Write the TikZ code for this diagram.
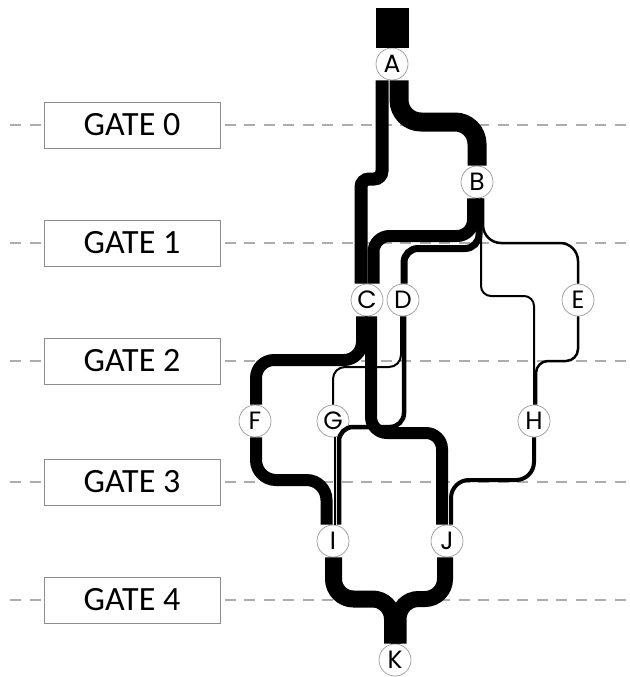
\documentclass[tikz,border=0pt]{standalone}
\usepackage{fontspec}
\usepackage{tikz}
\newfontfamily\gatefont{Carlito}
\newfontfamily\junctionfont{Poppins}

\begin{document}
\begin{tikzpicture}[x=1pt,y=-1pt,
	gate/.style={draw=black!45,fill=white,line width=0.8pt,minimum width=176pt,minimum height=46pt,
		font=\gatefont\fontsize{34}{34}\selectfont},
	junction/.style={circle,draw=black!40,fill=white,line width=0.7pt,minimum size=32pt,inner sep=0pt,
		font=\junctionfont\fontsize{25}{25}\selectfont},
	level/.style={draw=black!32,line width=2.6pt,dash pattern=on 11pt off 8.5pt},
	flow/.style={draw=black,line width=#1,line cap=butt}]
	\useasboundingbox (0,0) rectangle (629,677);

	% gate levels
	\foreach \y/\n in {125/0,243/1,361/2,482/3,600/4} {
		\draw[level] (10,\y) -- (629,\y);
		\node[gate] (gate\n) at (132,\y) {GATE \n};
	}

	\node[junction] (A) at (392,64) {A};
	\node[junction] (B) at (477,182) {B};
	\node[junction] (C) at (367,300) {C};
	\node[junction] (D) at (403,300) {D};
	\node[junction] (E) at (578,300) {E};
	\node[junction] (F) at (255,421) {F};
	\node[junction] (G) at (333,421) {G};
	\node[junction] (H) at (534,421) {H};
	\node[junction] (I) at (333,541) {I};
	\node[junction] (J) at (447,541) {J};
	\node[junction] (K) at (395,660) {K};
	\coordinate (src) at (392,8);

	\draw[flow=33pt] (src) -- (A.north);

	% A splits
	\draw[flow=19pt,rounded corners=22pt] ([xshift=7pt]A.south) |- (477,122) -- (B.north);
	\draw[flow=13pt,rounded corners=8pt] ([xshift=-10pt]A.south) |- (361,179) -- ([xshift=-6pt]C.north);

	% B splits
	\draw[flow=12pt,rounded corners=16pt] ([xshift=-4pt]B.south) |- (373.5,236) -- ([xshift=6.5pt]C.north);
	\draw[flow=7pt,rounded corners=14pt] ([xshift=2pt]B.south) |- (404,248.5) -- ([xshift=1pt]D.north);
	\draw[flow=2pt,rounded corners=10pt] ([xshift=4pt]B.south) |- (534,296) -- (H.north);
	\draw[flow=2.5pt,rounded corners=18pt] ([xshift=6pt]B.south) |- (578,243) -- (E.north);

	% C, D, E out
	\draw[flow=12pt,rounded corners=18pt] ([xshift=-5pt]C.south) |- (256,360) -- ([xshift=1pt]F.north);
	\draw[flow=12pt,rounded corners=16pt] ([xshift=4pt]C.south) |- (442,433) -- ([xshift=-5pt]J.north);
	\draw[flow=2pt,rounded corners=12pt] ([xshift=-2pt]D.south) |- (333,367) -- (G.north);
	\draw[flow=4.5pt,rounded corners=14pt] ([xshift=1pt]D.south) |- (339,427) -- ([xshift=6pt]I.north);
	\draw[flow=2.5pt,rounded corners=12pt] (E.south) |- (536,361) -- ([xshift=2pt]H.north);

	% F, G, H out
	\draw[flow=12pt,rounded corners=20pt] ([xshift=1pt]F.south) |- (326.5,480) -- ([xshift=-6.5pt]I.north);
	\draw[flow=2pt] ([xshift=1.5pt]G.south) -- ([xshift=1.5pt]I.north);
	\draw[flow=4pt,rounded corners=18pt] (H.south) |- (451,480) -- ([xshift=4pt]J.north);

	% I, J join at K
	\draw[flow=17pt,rounded corners=20pt] ([xshift=0.5pt]I.south) |- (392.5,599) -- ([xshift=-2.5pt]K.north);
	\draw[flow=16pt,rounded corners=20pt] ([xshift=-2pt]J.south) |- (398.5,599) -- ([xshift=3.5pt]K.north);
\end{tikzpicture}
\end{document}
